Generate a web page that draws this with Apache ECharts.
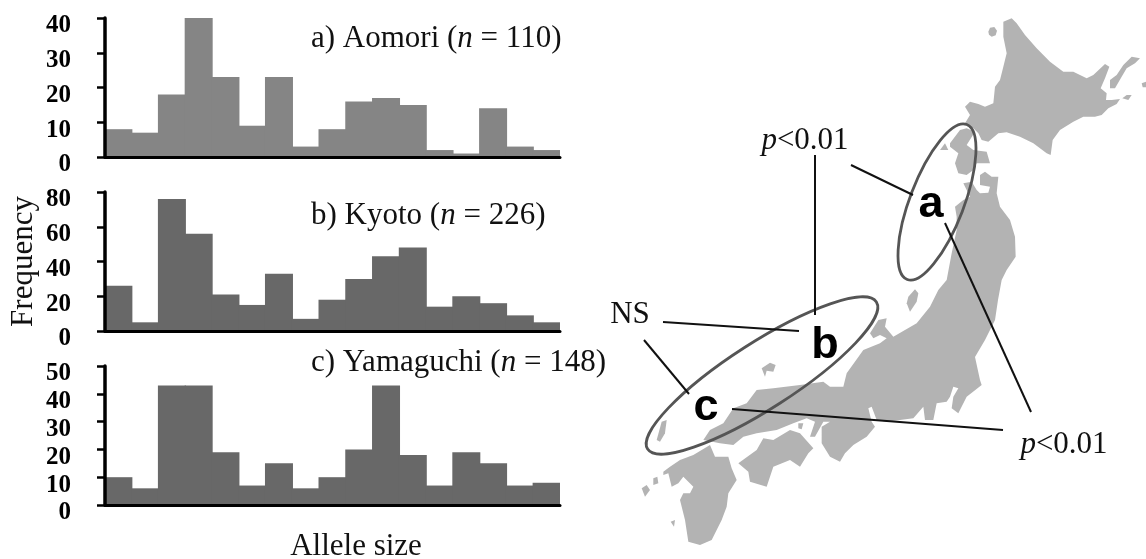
<!DOCTYPE html>
<html lang="en">
<head>
    <meta charset="UTF-8">
    <title>Allele size frequency</title>
    <style>
        *{ margin: 0; padding: 0; }
        body{ background: #fff; }
        #chart{ width: 1146px; height: 559px; }
    </style>
</head>
<body>
    <div id="chart"></div>
    <script src="https://cdn.jsdelivr.net/npm/echarts@6/dist/echarts.min.js"></script>
    <script>
        var bins = ['1','2','3','4','5','6','7','8','9','10','11','12','13','14','15','16','17'];
        var aomori = [8, 7, 18, 40, 23, 9, 23, 3, 8, 16, 17, 15, 2, 1, 14, 3, 2];
        var kyoto = [26, 5, 76, 56, 21, 15, 33, 7, 18, 30, 43, 48, 14, 20, 16, 9, 5];
        var yamaguchi = [10, 6, 43, 43, 19, 7, 15, 6, 10, 20, 43, 18, 7, 19, 15, 7, 8];

        // map outlines at 3x (north crop starts at 860,0 / south crop at 600,280)
        var hokkaido = [[430,65],[455,55],[470,70],[495,105],[530,145],[570,185],[610,215],[640,215],[680,235],[700,225],[735,192],[748,200],[735,235],[722,265],[740,280],[738,300],[755,300],[780,297],[770,312],[745,325],[725,345],[705,350],[670,350],[640,365],[600,390],[578,420],[572,465],[560,460],[520,430],[480,410],[440,397],[415,400],[385,425],[365,420],[355,400],[340,385],[315,370],[330,345],[315,320],[330,305],[355,312],[375,320],[400,310],[405,260],[420,240],[430,200],[440,160],[430,110]];
        var oshima = [[270,430],[300,390],[320,385],[345,395],[320,435],[340,450],[380,455],[390,490],[350,490],[340,510],[320,525],[295,520],[285,490],[295,460],[270,440]];
        var northIslands = [
            [[750,240],[770,225],[790,195],[815,170],[840,175],[825,190],[800,205],[785,230],[765,265],[750,265]],
            [[787,295],[800,285],[815,285],[805,300]],
            [[845,250],[858,245],[858,262],[848,262]],
            [[385,95],[390,83],[403,81],[411,92],[407,106],[395,110],[387,104]],
            [[240,450],[255,430],[265,450]]
        ];
        var honshuNorth = [[310,550],[335,545],[350,570],[360,580],[385,578],[390,560],[360,555],[360,525],[375,515],[395,530],[415,530],[410,580],[420,620],[450,660],[465,710],[467,770],[440,810],[425,840]];
        var honshuSouth = [[1194,60],[1185,120],[1155,180],[1125,231],[1140,300],[1145,315],[1100,350],[1075,400],[1055,385],[1060,350],[1075,325],[1060,320],[1050,350],[1040,365],[1010,370],[1000,420],[975,420],[970,380],[940,415],[860,425],[830,420],[815,380],[805,385],[815,425],[825,440],[800,470],[760,495],[735,520],[720,545],[690,530],[665,490],[665,440],[690,425],[670,425],[645,470],[630,470],[645,425],[620,415],[580,430],[530,450],[470,460],[430,470],[400,495],[360,490],[310,480],[330,450],[370,430],[400,385],[440,370],[470,330],[520,325],[600,315],[670,305],[690,320],[730,320],[740,280],[790,210],[840,190],[860,175],[840,165],[820,175],[810,160],[835,120],[860,115],[855,140],[880,170],[950,130],[990,80],[1015,30]];
        var honshuWest = [[260,840],[275,760],[290,690],[290,650],[285,620],[310,600],[330,590]];
        var shikoku = [[415,550],[470,510],[490,475],[520,480],[570,450],[600,460],[640,505],[625,520],[600,560],[570,540],[520,560],[500,620],[450,605],[445,575]];
        var kyushu = [[190,575],[210,560],[240,540],[280,525],[330,495],[345,530],[385,530],[395,565],[410,600],[385,640],[380,680],[365,720],[335,780],[300,795],[265,785],[255,720],[240,660],[250,640],[270,640],[280,620],[250,590],[235,610],[215,620],[205,580],[190,585]];
        var southIslands = [
            [[125,625],[140,615],[150,630],[135,650]],
            [[160,595],[172,590],[175,610],[160,615]],
            [[212,725],[225,720],[222,740]],
            [[485,265],[510,248],[527,255],[520,275],[500,272],[495,290]],
            [[925,50],[945,28],[955,40],[950,65],[930,95],[920,70]],
            [[170,480],[185,425],[200,420],[195,460],[180,485]],
            [[595,430],[610,430],[605,448],[595,445]]
        ];

        var leaderLines = [
            [[815,155],[815,315]],
            [[851,165],[913,195]],
            [[663,322],[799,331]],
            [[644,340],[689,394]],
            [[732,409],[1003,430]],
            [[945,223],[1031,412]]
        ];

        var SERIF = '"Liberation Serif", "Times New Roman", serif';
        var SANS = '"Liberation Sans", Arial, sans-serif';

        function fromCrop(points, ox, oy){
            return points.map(function(p){
                return [ox + p[0] / 3, -(oy + p[1] / 3)];
            });
        }
        function north(points){ return fromCrop(points, 860, 0); }
        function south(points){ return fromCrop(points, 600, 280); }
        function closeRing(points){ return points.concat([points[0]]); }

        var rings = [
            north(hokkaido), north(oshima),
            north(honshuNorth).concat(south(honshuSouth), north(honshuWest)),
            south(shikoku), south(kyushu)
        ].concat(northIslands.map(north), southIslands.map(south));

        echarts.registerMap('japan', {
            type: 'FeatureCollection',
            features: rings.map(function(ring, i){
                return {
                    type: 'Feature',
                    properties: { name: 'part' + i },
                    geometry: { type: 'Polygon', coordinates: [closeRing(ring)] }
                };
            })
        });

        function makeXAxis(gridIndex){
            return {
                type: 'category',
                gridIndex: gridIndex,
                data: bins,
                boundaryGap: true,
                z: 5,
                axisLine: { lineStyle: { color: '#000', width: 3 } },
                axisTick: { alignWithLabel: false, length: 6, lineStyle: { color: '#000', width: 2.5 } },
                axisLabel: { show: false }
            };
        }
        function makeYAxis(gridIndex, max, interval){
            return {
                type: 'value',
                gridIndex: gridIndex,
                min: 0,
                max: max,
                interval: interval,
                z: 5,
                splitLine: { show: false },
                axisLine: { show: true, lineStyle: { color: '#000', width: 3.5 } },
                axisTick: { show: true, length: 8, lineStyle: { color: '#000', width: 2.5 } },
                axisLabel: {
                    margin: 34,
                    verticalAlign: 'top',
                    lineHeight: 16,
                    color: '#000',
                    fontFamily: SERIF,
                    fontWeight: 'bold',
                    fontSize: 25
                }
            };
        }
        function makeBars(index, data, color){
            return {
                type: 'bar',
                xAxisIndex: index,
                yAxisIndex: index,
                data: data,
                barWidth: 28,     // a bit wider than the band so no seam shows between bars
                z: 1,
                itemStyle: { color: color },
                silent: true
            };
        }
        function serifText(x, y, text, align){
            return {
                type: 'text',
                x: x,
                y: y,
                z: 20,
                style: {
                    text: text,
                    align: align || 'left',
                    verticalAlign: 'middle',
                    fill: '#111',
                    font: '31px ' + SERIF,
                    rich: {
                        i: { font: 'italic 31px ' + SERIF, fill: '#111' }
                    }
                }
            };
        }
        function bigLetter(x, y, text){
            return {
                type: 'text',
                x: x,
                y: y,
                z: 20,
                style: {
                    text: text,
                    align: 'center',
                    verticalAlign: 'middle',
                    fill: '#000',
                    font: 'bold 45px ' + SANS
                }
            };
        }
        function ellipse(x, y, rx, ry, deg){
            return {
                type: 'ellipse',
                x: x,
                y: y,
                rotation: deg * Math.PI / 180,
                z: 15,
                shape: { cx: 0, cy: 0, rx: rx, ry: ry },
                style: { fill: null, stroke: '#555', lineWidth: 2.8 }
            };
        }

        var graphics = [
            serifText(311, 39, 'a) Aomori ({i|n} = 110)'),
            serifText(311, 216, 'b) Kyoto ({i|n} = 226)'),
            serifText(311, 363, 'c) Yamaguchi ({i|n} = 148)'),
            serifText(356, 547, 'Allele size', 'center'),
            serifText(805, 141, '{i|p}<0.01', 'center'),
            serifText(630, 315, 'NS', 'center'),
            serifText(1064, 445, '{i|p}<0.01', 'center'),
            bigLetter(931, 205, 'a'),
            bigLetter(825, 346, 'b'),
            bigLetter(706, 408, 'c'),
            ellipse(937, 202, 83, 27, 69),
            ellipse(762, 375.5, 136, 33, 32.75)
        ];
        leaderLines.forEach(function(l){
            graphics.push({
                type: 'line',
                z: 16,
                shape: { x1: l[0][0], y1: l[0][1], x2: l[1][0], y2: l[1][1] },
                style: { stroke: '#111', lineWidth: 2 }
            });
        });

        var option = {
            animation: false,
            backgroundColor: '#fff',
            grid: [
                { left: 105, right: 586, top: 18, height: 139 },
                { left: 105, right: 586, top: 192, height: 139 },
                { left: 105, right: 586, top: 366, height: 139 }
            ],
            xAxis: [makeXAxis(0), makeXAxis(1), makeXAxis(2)],
            yAxis: [
                makeYAxis(0, 40, 10),
                Object.assign(makeYAxis(1, 80, 20), {
                    name: 'Frequency',
                    nameLocation: 'middle',
                    nameRotate: 90,
                    nameGap: 66,
                    nameTextStyle: { color: '#111', fontFamily: SERIF, fontSize: 31 }
                }),
                makeYAxis(2, 50, 10)
            ],
            geo: {
                map: 'japan',
                silent: true,
                roam: false,
                aspectScale: 1,
                left: 640,
                top: 0,
                width: 506,
                height: 559,
                boundingCoords: [[640, 0], [1146, -559]],
                label: { show: false },
                itemStyle: { areaColor: '#b3b3b3', borderWidth: 0 }
            },
            series: [
                makeBars(0, aomori, '#858585'),
                makeBars(1, kyoto, '#686868'),
                makeBars(2, yamaguchi, '#686868')
            ],
            graphic: graphics
        };

        var myChart = echarts.init(document.getElementById('chart'));
        myChart.setOption(option);
    </script>
</body>
</html>
